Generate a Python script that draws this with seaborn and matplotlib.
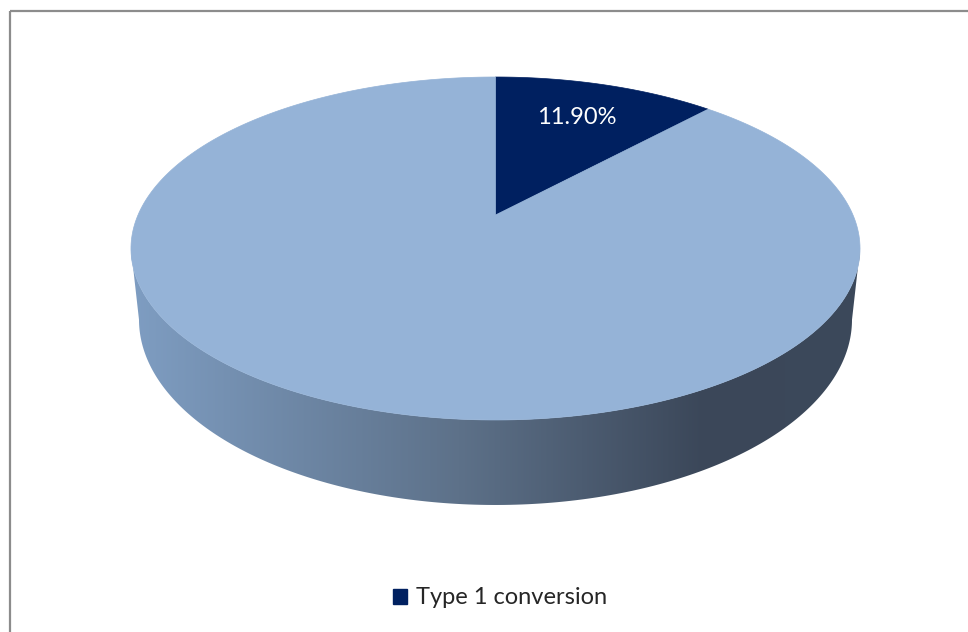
import numpy as np
import matplotlib
matplotlib.use("Agg")
import matplotlib.pyplot as plt
from matplotlib.patches import Polygon, Rectangle, Patch
from matplotlib.colors import LinearSegmentedColormap
import seaborn as sns

# Chart data
categories = ["Type 1 conversion", ""]
shares = [11.90, 88.10]
slice_colors = ["#002060", "#95b3d7"]
data_labels = ["11.90%", None]

sns.set_theme(style="white")
plt.rcParams["font.family"] = ["Lato", "DejaVu Sans"]

fig = plt.figure(figsize=(9.68, 6.32), dpi=100)
ax = fig.add_axes([0, 0, 1, 1])
ax.set_xlim(0, 968)
ax.set_ylim(632, 0)
ax.axis("off")

# perspective projection of a unit disc (Excel-like 3D pie)
cx, b, a, c, k = 495.5, 215.0, -122.96, 0.1953, 357.5
depth = 68.4


def proj(theta, r=1.0, drop=0.0, shrink=1.0):
    t = np.radians(theta)
    u, v = r * np.sin(t), r * np.cos(t)
    w = 1 + c * v
    return np.column_stack([cx + shrink * k * u / w, (a * v + b + drop) / w])


# side wall (front half), shaded left -> right
t_side = np.linspace(101.3, 258.7, 200)
top_edge = proj(t_side)
bot_edge = proj(t_side, drop=depth, shrink=0.978)[::-1]
side_poly = Polygon(np.vstack([top_edge, bot_edge]), closed=True,
                    facecolor="none", edgecolor="none")
ax.add_patch(side_poly)
side_cmap = LinearSegmentedColormap.from_list(
    "side", [(0, "#3c495b"), (0.22, "#3b4759"), (0.55, "#5d7189"), (1.0, "#7f9ec3")])
grad = np.linspace(0, 1, 256)[::-1].reshape(1, -1)
img = ax.imshow(grad, cmap=side_cmap, aspect="auto",
                extent=(125, 868, 520, 240), interpolation="bilinear")
img.set_clip_path(side_poly)

# top face wedges
bounds = np.concatenate([[0], np.cumsum(shares)]) / sum(shares) * 360
for i in range(len(shares)):
    arc = proj(np.linspace(bounds[i], bounds[i + 1], 300))
    centre = proj(np.array([0.0]), r=0.0)
    ax.add_patch(Polygon(np.vstack([centre, arc]), closed=True,
                         facecolor=slice_colors[i], edgecolor=slice_colors[i],
                         linewidth=0.5))
    if data_labels[i]:
        mid = (bounds[i] + bounds[i + 1]) / 2
        px, py = proj(np.array([mid]), r=0.72)[0]
        ax.text(px - 2, py, data_labels[i], color="white", fontsize=17,
                ha="center", va="center")

# chart border
ax.add_patch(Rectangle((10, 11), 990, 660, facecolor="none",
                       edgecolor="#8c8c8c", linewidth=1.6))

handle = Patch(facecolor=slice_colors[0], edgecolor=slice_colors[0])
ax.legend(handles=[handle], labels=[categories[0]], loc="center",
          bbox_to_anchor=(500, 598), bbox_transform=ax.transData,
          frameon=False, fontsize=17, handlelength=0.6, handleheight=0.6,
          handletextpad=0.4, borderpad=0)

fig.savefig("out.png", dpi=100)
